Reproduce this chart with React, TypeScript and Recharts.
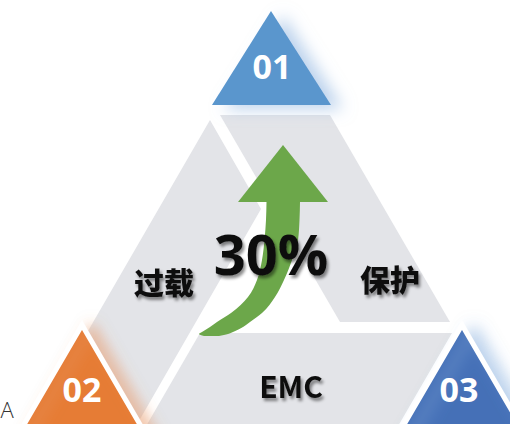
import { Area, ComposedChart, Scatter, XAxis, YAxis } from "recharts";

type Pt = [number, number];

// shape vertices, in picture units (x right, y down)
const tri01: Pt[] = [[212, 105], [271, 11], [331, 105]];
const tri02: Pt[] = [[15, 440], [82, 325], [149, 440]];
const tri03: Pt[] = [[395, 440], [462, 325], [529, 440]];
const pieceLeft: Pt[] = [[210, 120], [261, 209], [128, 440], [25, 440]];
const pieceRight: Pt[] = [[220, 115], [330, 115], [450, 322], [340, 322]];
const pieceBottom: Pt[] = [[200, 333], [452, 333], [390, 440], [138, 440]];

// curved arrow: left and right edge at each y
const shaftY = [202, 220, 240, 260, 280, 297, 313, 322, 327, 332, 334, 336];
const shaftLeft = [266.5, 266, 264.5, 262, 257, 248, 231, 217, 210, 202, 199, 204];
const shaftRight = [300, 299.5, 298, 292, 284, 275, 262, 250, 243, 233, 228, 219];
const headY = [145, 202];
const headLeft = [283, 238];
const headRight = [283, 328];

const numberLabels = [
  { x: 272, y: 66, label: "01" },
  { x: 82, y: 389, label: "02" },
  { x: 459, y: 389, label: "03" },
];
const percentLabel = [{ x: 271, y: 253, label: "30%" }];
const cnLabels = [
  { x: 164, y: 281, label: "过载" },
  { x: 390, y: 278, label: "保护" },
];
const emcLabel = [{ x: 291, y: 385, label: "EMC" }];
const sideLabel = [{ x: 7, y: 409, label: "A" }];

// convex polygon -> [top, bottom] ranges at each vertex x
function toRange(poly: Pt[]) {
  const xs = Array.from(new Set(poly.map((p) => p[0]))).sort((a, b) => a - b);
  return xs.map((x) => {
    const ys: number[] = [];
    poly.forEach((a, i) => {
      const b = poly[(i + 1) % poly.length];
      const lo = Math.min(a[0], b[0]);
      const hi = Math.max(a[0], b[0]);
      if (x < lo || x > hi) return;
      if (a[0] === b[0]) ys.push(a[1], b[1]);
      else ys.push(a[1] + ((x - a[0]) / (b[0] - a[0])) * (b[1] - a[1]));
    });
    return { x, r: [Math.min(...ys), Math.max(...ys)] };
  });
}

const shaftData = shaftY.map((y, i) => ({ y, r: [shaftLeft[i], shaftRight[i]] }));
const headData = headY.map((y, i) => ({ y, r: [headLeft[i], headRight[i]] }));

const GRAY = "#e3e4e8";
const GREEN = "#6ca74a";

function textShape(opts: { size: number; color: string; family: string; weight?: number; shadow?: boolean }) {
  return (p: any) => (
    <text
      x={p.cx}
      y={p.cy}
      textAnchor="middle"
      dominantBaseline="central"
      fontSize={opts.size}
      fontFamily={opts.family}
      fontWeight={opts.weight ?? 700}
      fill={opts.color}
      filter={opts.shadow ? "url(#txtShadow)" : undefined}
    >
      {p.payload.label}
    </text>
  );
}

const layer: React.CSSProperties = { position: "absolute", left: 0, top: 0 };

export default function App() {
  const area = (data: any[], fill: string, extra: any = {}) => (
    <Area
      data={data}
      dataKey="r"
      type="linear"
      fill={fill}
      fillOpacity={1}
      stroke="none"
      dot={false}
      activeDot={false}
      isAnimationActive={false}
      {...extra}
    />
  );

  return (
    <div style={{ ...layer, width: 510, height: 424, background: "#fff" }}>
      <svg width={0} height={0} style={{ position: "absolute" }}>
        <defs>
          <filter id="txtShadow" x="-20%" y="-20%" width="140%" height="140%">
            <feDropShadow dx={2} dy={3} stdDeviation={1.6} floodColor="#000" floodOpacity={0.45} />
          </filter>
          <filter id="glowBlue" x="-40%" y="-40%" width="180%" height="180%">
            <feDropShadow dx={12} dy={4} stdDeviation={8} floodColor="#8fb4e0" floodOpacity={0.6} />
          </filter>
          <filter id="glowOrange" x="-40%" y="-40%" width="180%" height="180%">
            <feDropShadow dx={10} dy={2} stdDeviation={7} floodColor="#e89a6a" floodOpacity={0.55} />
          </filter>
        </defs>
      </svg>

      {/* panels and corner triangles */}
      <div style={layer}>
        <ComposedChart width={510} height={424} margin={{ top: 0, right: 0, bottom: 0, left: 0 }}>
          <XAxis type="number" dataKey="x" domain={[0, 510]} allowDataOverflow hide />
          <YAxis type="number" domain={[0, 424]} reversed allowDataOverflow hide />
          {area(toRange(pieceLeft), GRAY)}
          {area(toRange(pieceRight), GRAY)}
          {area(toRange(pieceBottom), GRAY)}
          {area(toRange(tri01), "#5a96cd", { filter: "url(#glowBlue)" })}
          {area(toRange(tri02), "#e67b34", { stroke: "#fff", strokeWidth: 5, filter: "url(#glowOrange)" })}
          {area(toRange(tri03), "#4470b7", { stroke: "#fff", strokeWidth: 5, filter: "url(#glowBlue)" })}
        </ComposedChart>
      </div>

      {/* arrow and labels (vertical layout: y is the category axis, top to bottom) */}
      <div style={layer}>
        <ComposedChart
          layout="vertical"
          width={510}
          height={424}
          margin={{ top: 0, right: 0, bottom: 0, left: 0 }}
        >
          <XAxis type="number" domain={[0, 510]} allowDataOverflow hide />
          <YAxis type="number" dataKey="y" domain={[0, 424]} allowDataOverflow hide />
          {area(shaftData, GREEN, { type: "monotone" })}
          {area(headData, GREEN)}
          <Scatter
            data={numberLabels}
            dataKey="x"
            isAnimationActive={false}
            shape={textShape({ size: 34, color: "#fff", family: "'Open Sans', sans-serif" })}
          />
          <Scatter
            data={percentLabel}
            dataKey="x"
            isAnimationActive={false}
            shape={textShape({ size: 56, color: "#111", family: "'Open Sans', sans-serif", shadow: true })}
          />
          <Scatter
            data={cnLabels}
            dataKey="x"
            isAnimationActive={false}
            shape={textShape({ size: 30, color: "#111", family: "'Noto Sans CJK SC', sans-serif", weight: 900, shadow: true })}
          />
          <Scatter
            data={emcLabel}
            dataKey="x"
            isAnimationActive={false}
            shape={textShape({ size: 30, color: "#111", family: "'Noto Sans CJK SC', sans-serif", shadow: true })}
          />
          <Scatter
            data={sideLabel}
            dataKey="x"
            isAnimationActive={false}
            shape={textShape({ size: 22, color: "#333", family: "'Open Sans', sans-serif", weight: 300 })}
          />
        </ComposedChart>
      </div>
    </div>
  );
}
